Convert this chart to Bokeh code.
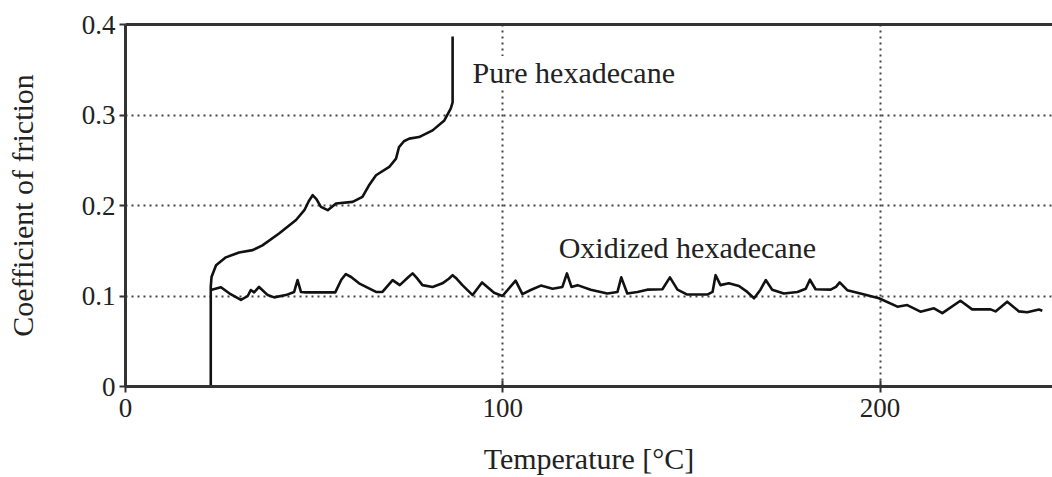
from bokeh.plotting import figure
from bokeh.models import (LinearAxis, FixedTicker, Label, Range1d)
from bokeh.embed import file_html
from bokeh.resources import INLINE

# Friction coefficient vs. temperature, pure and oxidized hexadecane
pure_temp = [22.6, 22.6, 22.8, 24.0, 26.6, 30.1, 33.7, 36.3, 40.7, 45.2, 47.4,
             48.6, 49.6, 50.6, 51.8, 53.6, 55.8, 60.2, 62.8, 64.5, 66.4, 69.9,
             71.7, 72.5, 73.8, 75.2, 77.8, 81.4, 84.5, 86.2, 86.7, 86.7]
pure_cof = [0.0, 0.110, 0.121, 0.134, 0.1427, 0.148, 0.1507, 0.156, 0.169,
            0.184, 0.1948, 0.205, 0.2114, 0.207, 0.1985, 0.1948, 0.2022,
            0.2040, 0.2095, 0.222, 0.2334, 0.2426, 0.2518, 0.2646, 0.271,
            0.2739, 0.2756, 0.283, 0.294, 0.307, 0.314, 0.3867]

ox_temp = [22.6, 25.3, 27.5, 30.6, 32.4, 33.2, 34.1, 35.4, 37.7, 39.4, 42.5,
           44.7, 45.6, 46.5, 47.8, 55.6, 57.2, 58.4, 59.8, 61.9, 66.4, 68.1,
           70.8, 72.7, 75.0, 76.1, 77.2, 78.7, 81.4, 84.0, 85.7, 86.7, 87.8,
           89.3, 92.0, 94.5, 97.7, 99.9, 103.4, 105.2, 107.4, 110.1, 113.2,
           115.8, 117.0, 118.2, 119.8, 123.3, 127.7, 130.4, 131.4, 133.0, 135.7,
           138.3, 142.3, 144.3, 146.3, 148.9, 154.2, 155.6, 156.4, 157.7, 159.9,
           162.6, 164.8, 166.6, 168.3, 169.7, 171.4, 174.5, 178.1, 180.3, 181.4,
           182.9, 186.9, 188.3, 189.3, 191.3, 194.8, 199.7, 204.6, 207.2, 210.7,
           214.3, 216.5, 221.3, 224.4, 229.3, 230.6, 233.7, 236.8, 239.0, 242.1,
           243.0]
ox_cof = [0.1066, 0.1096, 0.103, 0.0956, 0.100, 0.1066, 0.104, 0.110, 0.101,
          0.0985, 0.101, 0.1045, 0.1176, 0.1045, 0.104, 0.104, 0.118, 0.1243,
          0.121, 0.114, 0.1045, 0.1045, 0.1176, 0.112, 0.121, 0.125, 0.120,
          0.112, 0.110, 0.114, 0.119, 0.123, 0.119, 0.112, 0.101, 0.115, 0.1035,
          0.100, 0.117, 0.102, 0.1066, 0.1115, 0.108, 0.110, 0.125, 0.110,
          0.112, 0.107, 0.1028, 0.1045, 0.1206, 0.1028, 0.1045, 0.107, 0.1075,
          0.1206, 0.107, 0.1016, 0.1016, 0.1045, 0.123, 0.112, 0.114, 0.111,
          0.1045, 0.0975, 0.107, 0.1176, 0.107, 0.1028, 0.1045, 0.108, 0.118,
          0.1075, 0.107, 0.110, 0.115, 0.1064, 0.1028, 0.0975, 0.0882, 0.090,
          0.0827, 0.0864, 0.081, 0.0948, 0.0852, 0.0852, 0.083, 0.0937, 0.083,
          0.082, 0.085, 0.0837]

x_ticks = [0, 100, 200]
y_ticks = [0, 0.1, 0.2, 0.3, 0.4]
y_tick_labels = {0: "0", 0.1: "0.1", 0.2: "0.2", 0.3: "0.3", 0.4: "0.4"}

FONT = "Liberation Serif"
INK = "#222222"
AXIS = "#333333"

p = figure(width=1052, height=477, output_backend="svg", toolbar_location=None,
           x_range=Range1d(0, 245.7), y_range=Range1d(0, 0.4),
           min_border_left=125, min_border_right=0, min_border_top=24,
           min_border_bottom=90, x_axis_label="Temperature [°C]",
           y_axis_label="Coefficient of friction")
p.outline_line_color = None
p.background_fill_color = "white"

# grid: dotted lines at interior ticks only
p.xgrid.ticker = FixedTicker(ticks=[100, 200])
p.ygrid.ticker = FixedTicker(ticks=[0.1, 0.2, 0.3])
for g in (p.xgrid[0], p.ygrid[0]):
    g.grid_line_color = "#444444"
    g.grid_line_dash = "2 4"
    g.grid_line_width = 2

# axes
xa = p.xaxis[0]
xa.ticker = FixedTicker(ticks=x_ticks)
ya = p.yaxis[0]
ya.ticker = FixedTicker(ticks=y_ticks)
ya.major_label_overrides = y_tick_labels
for ax in (xa, ya):
    ax.axis_line_color = AXIS
    ax.axis_line_width = 3
    ax.major_tick_line_color = AXIS
    ax.major_tick_line_width = 2
    ax.minor_tick_line_color = None
    ax.major_label_text_font = FONT
    ax.major_label_text_font_size = "27px"
    ax.major_label_text_color = INK
    ax.axis_label_text_font = FONT
    ax.axis_label_text_font_size = "30px"
    ax.axis_label_text_font_style = "normal"
    ax.axis_label_text_color = INK
xa.major_tick_in = 6
xa.major_tick_out = 6
xa.major_label_standoff = 6
xa.axis_label_standoff = 22
ya.major_tick_in = 0
ya.major_tick_out = 6
ya.major_label_standoff = 4
ya.axis_label_standoff = 40

# top frame line
top = LinearAxis(ticker=FixedTicker(ticks=[]), axis_line_color=AXIS,
                 axis_line_width=3, major_tick_in=0, major_tick_out=0,
                 minor_tick_line_color=None, major_label_text_font_size="0px",
                 major_label_standoff=0)
p.add_layout(top, "above")

# curves
p.line(pure_temp, pure_cof, line_color="#111111", line_width=2.6,
       line_join="round")
p.line(ox_temp, ox_cof, line_color="#111111", line_width=2.6,
       line_join="round")

# series labels
for txt, x, y in [("Pure hexadecane", 92.0, 0.347),
                  ("Oxidized hexadecane", 114.8, 0.154)]:
    p.add_layout(Label(x=x, y=y, text=txt, text_font=FONT,
                       text_font_size="30px", text_color=INK,
                       text_baseline="middle", text_align="left",
                       background_fill_color="white",
                       background_fill_alpha=1.0))

open("out.html", "w").write(file_html(p, INLINE))
